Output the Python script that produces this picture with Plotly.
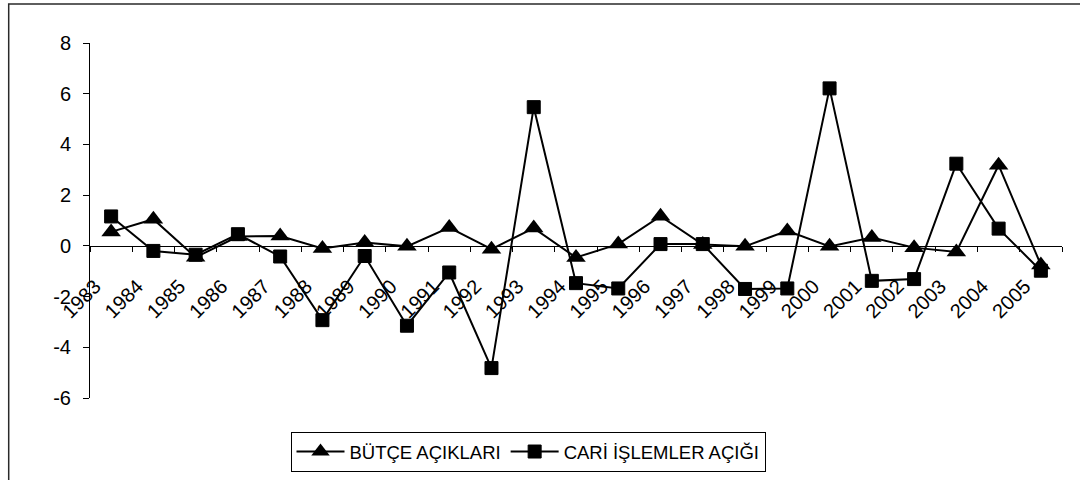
import plotly.graph_objects as go

# Years on the category axis
years = [str(y) for y in range(1983, 2006)]

# Budget deficits (triangles)
butce_aciklari = [0.55, 1.05, -0.45, 0.37, 0.39, -0.10, 0.13, -0.02, 0.72, -0.13,
                  0.70, -0.46, 0.07, 1.17, 0.05, -0.02, 0.59, -0.02, 0.33, -0.07,
                  -0.24, 3.18, -0.75]

# Current account deficit (squares)
cari_islemler_acigi = [1.16, -0.20, -0.35, 0.46, -0.42, -2.93, -0.40, -3.15, -1.05, -4.82,
                       5.47, -1.47, -1.68, 0.07, 0.07, -1.70, -1.68, 6.21, -1.38, -1.31,
                       3.24, 0.68, -0.98]

y_ticks = [-6, -4, -2, 0, 2, 4, 6, 8]

FONT = "Liberation Sans, Arial, sans-serif"

fig = go.Figure()

fig.add_trace(go.Scatter(
    x=years, y=butce_aciklari, name="BÜTÇE AÇIKLARI",
    mode="lines+markers",
    line=dict(color="black", width=2),
    marker=dict(symbol="triangle-up", size=17, color="black"),
))

fig.add_trace(go.Scatter(
    x=years, y=cari_islemler_acigi, name="CARİ İŞLEMLER AÇIĞI",
    mode="lines+markers",
    line=dict(color="black", width=2),
    marker=dict(symbol="square", size=13, color="black",
                line=dict(color="black", width=1)),
))

# plot area geometry (pixels) used for the frame and legend placement
L, R, T, B = 90, 18, 43, 82
W, H = 1080, 480
pw, ph = W - L - R, H - T - B

def px_to_paper_x(px):
    return (px - L) / pw

def px_to_paper_y(py):
    return (H - B - py) / ph

fig.add_shape(
    type="rect", xref="paper", yref="paper",
    x0=px_to_paper_x(8.7), x1=px_to_paper_x(1090),
    y0=px_to_paper_y(495), y1=px_to_paper_y(4),
    line=dict(color="#2a2a2a", width=1.5), fillcolor="rgba(0,0,0,0)",
    layer="below",
)

fig.update_layout(
    width=W, height=H,
    margin=dict(l=L, r=R, t=T, b=B, autoexpand=False),
    paper_bgcolor="white", plot_bgcolor="white",
    font=dict(family=FONT, color="black", size=19),
    showlegend=True,
    legend=dict(
        orientation="h",
        x=px_to_paper_x(528), xanchor="center",
        y=px_to_paper_y(452), yanchor="middle",
        bordercolor="black", borderwidth=1,
        bgcolor="white",
        font=dict(family=FONT, size=18.5, color="black"),
        itemwidth=48,
        tracegroupgap=0,
    ),
    xaxis=dict(
        type="category",
        categoryorder="array", categoryarray=years,
        range=[-0.5, len(years) - 0.5],
        anchor="free", position=6 / 14,
        showline=True, linecolor="black", linewidth=1,
        ticks="outside", ticklen=5, tickcolor="black", tickwidth=1,
        tickson="boundaries",
        tickangle=-45,
        ticklabelstandoff=20,
        ticklabelshift=-16,
        showgrid=False, zeroline=False,
        tickfont=dict(family=FONT, size=20, color="black"),
    ),
    yaxis=dict(
        range=[-6, 8],
        tickvals=y_ticks,
        ticktext=[str(v) for v in y_ticks],
        showline=True, linecolor="black", linewidth=1,
        ticks="outside", ticklen=6, tickcolor="black", tickwidth=1,
        ticklabelstandoff=8,
        showgrid=False, zeroline=False,
        tickfont=dict(family=FONT, size=20, color="black"),
    ),
)

fig.write_html("out.html")
